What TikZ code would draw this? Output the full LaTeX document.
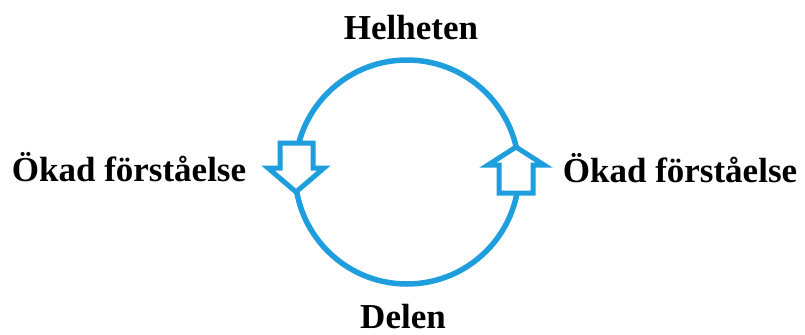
\documentclass[tikz,border=0pt]{standalone}
\usepackage{fontspec}
\setmainfont{Liberation Serif}
\definecolor{cycleblue}{RGB}{30,158,220}
\begin{document}
\begin{tikzpicture}[x=1bp,y=-1bp,
  lbl/.style={font=\fontsize{35bp}{40bp}\selectfont\bfseries, inner sep=0pt, anchor=base, text=black},
  ring/.style={draw=cycleblue, line width=5.5bp},
  bigarrow/.style={draw=cycleblue, fill=white, line width=5bp, line join=miter}]
\useasboundingbox (0,0) rectangle (805,334);
\fill[white] (0,0) rectangle (805,334);
\node[circle, ring, minimum size=224bp, inner sep=0pt] (cyc) at (407,172) {};
% down arrow (left)
\draw[bigarrow] (280,143) -- (313,143) -- (313,168) -- (324,168) -- (296,192) -- (268,168) -- (280,168) -- cycle;
% up arrow (right)
\draw[bigarrow] (499,193) -- (533,193) -- (533,165) -- (544,165) -- (516,147) -- (488,165) -- (499,165) -- cycle;
\node[lbl] (top) at (411,39) {Helheten};
\node[lbl] (bottom) at (403,328) {Delen};
\node[lbl] (left) at (129,181) {Ökad förståelse};
\node[lbl] (right) at (680,182) {Ökad förståelse};
\end{tikzpicture}
\end{document}
